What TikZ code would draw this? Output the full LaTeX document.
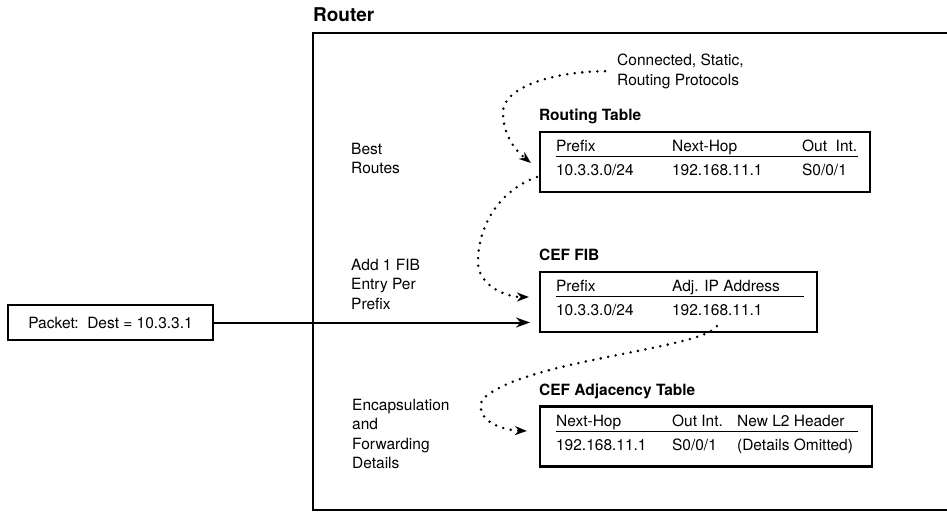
\documentclass[tikz,border=0pt]{standalone}
\usepackage{fontspec}
\setmainfont{TeX Gyre Heros}
\usetikzlibrary{arrows.meta,calc,positioning}

\begin{document}
\begin{tikzpicture}[x=1pt, y=-1pt,
    every node/.style={font=\fontsize{15.5}{19.5}\selectfont},
    tablebox/.style={draw, line width=2.2pt, minimum height=60pt, inner sep=0pt},
    tabletitle/.style={font=\fontsize{15.5}{19.5}\selectfont\bfseries, anchor=base west, inner sep=0pt},
    cell/.style={anchor=base west, inner sep=0pt},
    note/.style={anchor=base west, inner sep=0pt, align=left},
    headrule/.style={line width=1pt},
    flow/.style={line width=2.8pt, line cap=round, dash pattern=on 0pt off 7.6pt,
                 -{Stealth[length=12pt, width=9pt]}}]

    \useasboundingbox (0,0) rectangle (947,511);

    % === Router frame (runs off the right edge) ===
    \node[font=\fontsize{19}{22}\selectfont\bfseries, anchor=base west, inner sep=0pt] (routerlbl) at (313,22) {Router};
    \draw[line width=2pt] (952,33) -| (313,510) -- (952,510);

    % === Incoming packet ===
    \node[draw, line width=2pt, minimum width=205pt, minimum height=35pt, inner sep=0pt] (packet) at (110.5,322.5) {Packet:\ \ Dest = 10.3.3.1};
    \coordinate (fibin) at (530,322.5);
    \draw[line width=2pt, -{Stealth[length=14pt, width=10pt]}] (packet.east) -- (fibin);

    % === Routing Table ===
    \node[tablebox, minimum width=330pt] (rt) at (705,162) {};
    \node[tabletitle] (rttitle) at ($(rt.north west)+(0,-10)$) {Routing Table};
    \node[cell] (rtprefix) at ($(rt.north west)+(17,21)$) {Prefix};
    \node[cell] (rtnexthop) at ($(rt.north west)+(133,21)$) {Next-Hop};
    \node[cell] (rtoutint) at ($(rt.north west)+(263,21)$) {Out\ \ Int.};
    \draw[headrule] ($(rt.north west)+(17,26)$) -- ($(rt.north east)+(-13,26)$);
    \node[cell] (rtprefixv) at ($(rt.north west)+(17,45)$) {10.3.3.0/24};
    \node[cell] (rtnexthopv) at ($(rt.north west)+(133,45)$) {192.168.11.1};
    \node[cell] (rtoutintv) at ($(rt.north west)+(263,45)$) {S0/0/1};

    % === CEF FIB ===
    \node[tablebox, minimum width=277pt] (fib) at (678.5,302) {};
    \node[tabletitle] (fibtitle) at ($(fib.north west)+(0,-10)$) {CEF FIB};
    \node[cell] (fibprefix) at ($(fib.north west)+(17,21)$) {Prefix};
    \node[cell] (fibadj) at ($(fib.north west)+(133,21)$) {Adj. IP Address};
    \draw[headrule] ($(fib.north west)+(17,26)$) -- ($(fib.north east)+(-14,26)$);
    \node[cell] (fibprefixv) at ($(fib.north west)+(17,45)$) {10.3.3.0/24};
    \node[cell] (fibadjv) at ($(fib.north west)+(133,45)$) {192.168.11.1};

    % === CEF Adjacency Table ===
    \node[tablebox, minimum width=332pt] (adj) at (706,436.5) {};
    \node[tabletitle] (adjtitle) at ($(adj.north west)+(0,-10)$) {CEF Adjacency Table};
    \node[cell] (adjnexthop) at ($(adj.north west)+(17,21)$) {Next-Hop};
    \node[cell] (adjoutint) at ($(adj.north west)+(133,21)$) {Out Int.};
    \node[cell] (adjheader) at ($(adj.north west)+(198,21)$) {New L2 Header};
    \draw[headrule] ($(adj.north west)+(17,26)$) -- ($(adj.north east)+(-15,26)$);
    \node[cell] (adjnexthopv) at ($(adj.north west)+(17,45)$) {192.168.11.1};
    \node[cell] (adjoutintv) at ($(adj.north west)+(133,45)$) {S0/0/1};
    \node[cell] (adjheaderv) at ($(adj.north west)+(198,45)$) {(Details Omitted)};

    % === Side notes (base = last line) ===
    \node[note] (sources) at (617,85) {Connected, Static,\\Routing Protocols};
    \node[note] (bestroutes) at (351,173.5) {Best\\Routes};
    \node[note] (addfib) at (351,309) {Add 1 FIB\\Entry Per\\Prefix};
    \node[note] (encap) at (352,468.5) {Encapsulation\\and\\Forwarding\\Details};

    % === Dotted flows between the tables ===
    \coordinate (srcout) at ($(sources.west)+(-12,0)$);
    \draw[flow] (srcout) .. controls (545,72) and (503,90) .. (503,112)
        .. controls (503,135) and (515,150) .. ($(rt.west)+(-8,1)$);
    \draw[flow] ($(rt.west)+(-2,15)$) .. controls (500,190) and (478,225) .. (478,262)
        .. controls (478,285) and (505,297) .. ($(fib.west)+(-10,-5)$);
    \draw[flow] ($(fib.south west)+(178,-7)$) .. controls (700,350) and (520,360) .. (482,400)
        .. controls (475,420) and (500,430) .. ($(adj.west)+(-12,-5.5)$);

\end{tikzpicture}
\end{document}
